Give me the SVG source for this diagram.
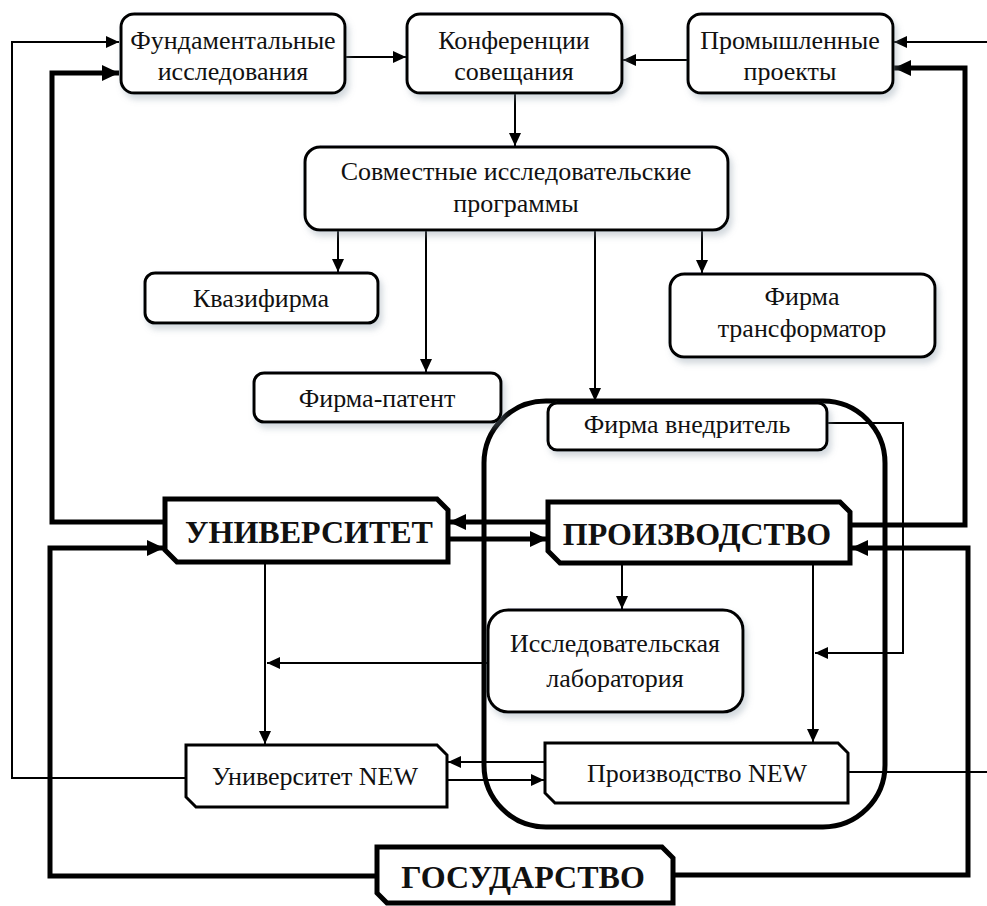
<svg xmlns="http://www.w3.org/2000/svg" width="987" height="906" viewBox="0 0 987 906">
<style>
.box{fill:#fff;stroke:#000;stroke-width:3;}
.shad{filter:url(#sh);}
.ch{fill:#fff;stroke:#000;stroke-width:3;}
.chb{fill:#fff;stroke:#000;stroke-width:5;}
.t{font-family:"Liberation Serif","Times New Roman",serif;font-size:26px;fill:#111;text-anchor:middle;}
.tb{font-family:"Liberation Serif","Times New Roman",serif;font-size:32px;font-weight:bold;fill:#111;text-anchor:middle;}
.thin{fill:none;stroke:#000;stroke-width:2;}
.thick{fill:none;stroke:#000;stroke-width:5;}
</style>
<defs>
<filter id="sh" x="-10%" y="-10%" width="125%" height="140%">
<feDropShadow dx="3" dy="5" stdDeviation="3" flood-color="#8090a0" flood-opacity="0.35"/>
</filter>
<marker id="a" markerUnits="userSpaceOnUse" markerWidth="13" markerHeight="12" refX="13" refY="6" orient="auto">
<path d="M0,0 L13,6 L0,12 z" fill="#000"/>
</marker>
<marker id="A" markerUnits="userSpaceOnUse" markerWidth="17" markerHeight="16" refX="17" refY="8" orient="auto">
<path d="M0,0 L17,8 L0,16 z" fill="#000"/>
</marker>
</defs>
<rect width="987" height="906" fill="#fff"/>

<g id="container">
<rect x="484" y="401" width="401" height="426" rx="62" fill="none" stroke="#000" stroke-width="5"/>
</g>

<g id="connectors">
<path class="thin" d="M186,778 H12 V42 H119" marker-end="url(#a)"/>
<path class="thick" d="M165,522 H52 V73 H119" marker-end="url(#A)"/>
<path class="thick" d="M377,876 H50 V548 H164" marker-end="url(#A)"/>
<path class="thin" d="M987,42 H894" marker-end="url(#a)"/>
<path class="thick" d="M850,525 H965 V68 H894" marker-end="url(#A)"/>
<path class="thick" d="M673,875 H968 V548 H851" marker-end="url(#A)"/>
<path class="thin" d="M345,57 H406" marker-end="url(#a)"/>
<path class="thin" d="M688,60 H623" marker-end="url(#a)"/>
<path class="thin" d="M515,93 V146" marker-end="url(#a)"/>
<path class="thin" d="M338,230 V272" marker-end="url(#a)"/>
<path class="thin" d="M426,230 V372" marker-end="url(#a)"/>
<path class="thin" d="M595,230 V401" marker-end="url(#a)"/>
<path class="thin" d="M702,230 V273" marker-end="url(#a)"/>
<path class="thick" d="M548,522 H449" marker-end="url(#A)"/>
<path class="thick" d="M448,539 H547" marker-end="url(#A)"/>
<path class="thin" d="M265,562 V744" marker-end="url(#a)"/>
<path class="thin" d="M488,663 H267" marker-end="url(#a)"/>
<path class="thin" d="M622,563 V609" marker-end="url(#a)"/>
<path class="thin" d="M813,563 V742" marker-end="url(#a)"/>
<path class="thin" d="M827,423 H903 V653 H815" marker-end="url(#a)"/>
<path class="thin" d="M545,762 H448" marker-end="url(#a)"/>
<path class="thin" d="M447,780 H544" marker-end="url(#a)"/>
<path class="thin" d="M848,772 H987"/>
</g>

<g id="fund">
<rect class="box shad" x="121" y="14" width="224" height="79" rx="13"/>
<text class="t" x="233" y="49">Фундаментальные</text>
<text class="t" x="233" y="80">исследования</text>
</g>
<g id="konf">
<rect class="box shad" x="407" y="14" width="215" height="79" rx="13"/>
<text class="t" x="514" y="49">Конференции</text>
<text class="t" x="514" y="80">совещания</text>
</g>
<g id="prom">
<rect class="box shad" x="688" y="14" width="205" height="79" rx="13"/>
<text class="t" x="790" y="49">Промышленные</text>
<text class="t" x="790" y="80">проекты</text>
</g>
<g id="sovm">
<rect class="box shad" x="305" y="147" width="423" height="83" rx="15"/>
<text class="t" x="516" y="180">Совместные исследовательские</text>
<text class="t" x="516" y="212">программы</text>
</g>
<g id="kvazi">
<rect class="box shad" x="145" y="273" width="233" height="50" rx="10"/>
<text class="t" x="261" y="307">Квазифирма</text>
</g>
<g id="patent">
<rect class="box shad" x="254" y="373" width="247" height="49" rx="10"/>
<text class="t" x="377" y="407">Фирма-патент</text>
</g>
<g id="transf">
<rect class="box shad" x="670" y="274" width="265" height="83" rx="14"/>
<text class="t" x="802" y="305">Фирма</text>
<text class="t" x="802" y="337">трансформатор</text>
</g>
<g id="vnedr">
<rect class="box shad" x="548" y="403" width="279" height="47" rx="9"/>
<text class="t" x="687" y="433">Фирма внедритель</text>
</g>
<g id="univ">
<path class="chb" d="M165,499 H437 L448,510 V562 H177 L165,550 Z"/>
<text class="tb" x="309" y="543">УНИВЕРСИТЕТ</text>
</g>
<g id="proizv">
<path class="chb" d="M548,502 H840 L850,512 V563 H560 L548,551 Z"/>
<text class="tb" x="697" y="545">ПРОИЗВОДСТВО</text>
</g>
<g id="lab">
<rect class="box shad" x="488" y="610" width="255" height="102" rx="20"/>
<text class="t" x="615" y="652">Исследовательская</text>
<text class="t" x="615" y="687">лаборатория</text>
</g>
<g id="univnew">
<path class="ch" d="M186,745 H437 L447,755 V807 H196 L186,797 Z"/>
<text class="t" x="315" y="785">Университет NEW</text>
</g>
<g id="proizvnew">
<path class="ch" d="M545,743 H838 L848,753 V803 H555 L545,793 Z"/>
<text class="t" x="697" y="782">Производство NEW</text>
</g>
<g id="gos">
<path class="chb" d="M377,847 H662 L673,858 V903 H387 L377,893 Z"/>
<text class="tb" x="523" y="888">ГОСУДАРСТВО</text>
</g>
</svg>
